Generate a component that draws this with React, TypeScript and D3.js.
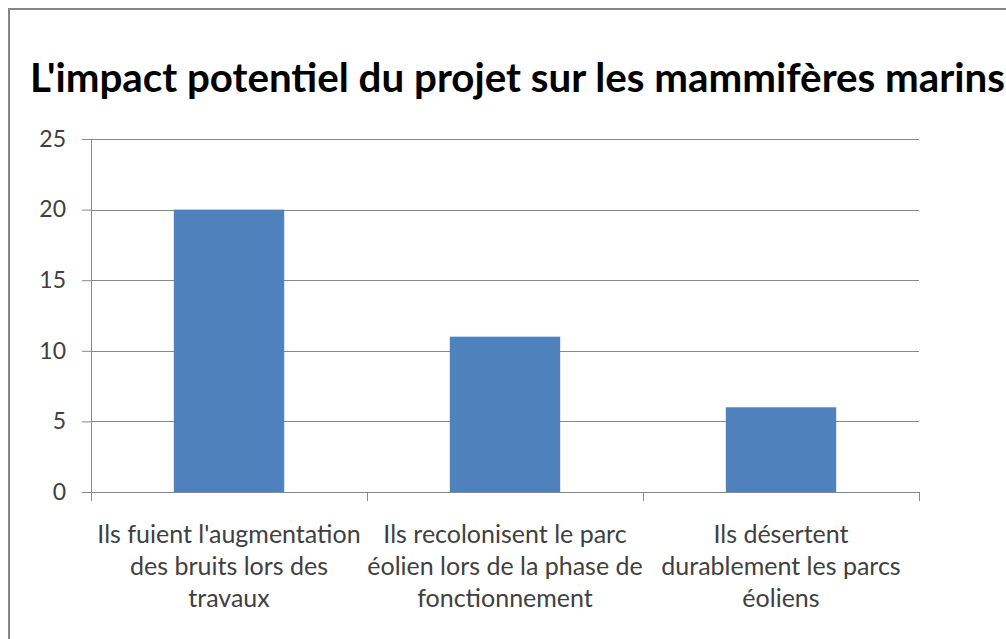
import React, { useEffect, useRef } from "react";
import * as d3 from "d3";

const title = "L'impact potentiel du projet sur les mammifères marins";
const categories = [
  ["Ils fuient l'augmentation", "des bruits lors des", "travaux"],
  ["Ils recolonisent le parc", "éolien lors de la phase de", "fonctionnement"],
  ["Ils désertent", "durablement les parcs", "éoliens"],
];
const values = [20, 11, 6];
const yTicks = [0, 5, 10, 15, 20, 25];

const W = 1006;
const H = 639;
const plot = { left: 91, right: 919, top: 139, bottom: 492 };
const FONT = "Lato, 'Open Sans', sans-serif";

const App = () => {
  const svgRef = useRef<SVGSVGElement>(null);

  useEffect(() => {
    const svg = d3.select(svgRef.current);
    svg.selectAll("*").remove();

    // chart frame, runs off the right and bottom edges
    svg
      .append("rect")
      .attr("x", 9)
      .attr("y", 9)
      .attr("width", W + 20)
      .attr("height", H + 20)
      .attr("fill", "#fff")
      .attr("stroke", "#878787")
      .attr("stroke-width", 2);

    svg
      .append("text")
      .attr("x", 30)
      .attr("y", 92)
      .attr("font-family", FONT)
      .attr("font-weight", "bold")
      .attr("font-size", 40.3)
      .attr("fill", "#000")
      .text(title);

    const x = d3
      .scaleBand<number>()
      .domain(categories.map((_, i) => i))
      .range([plot.left, plot.right])
      .paddingInner(0.6)
      .paddingOuter(0.3);

    const y = d3
      .scaleLinear()
      .domain([0, 25])
      .range([plot.bottom, plot.top]);

    const yAxis = d3
      .axisLeft(y)
      .tickValues(yTicks)
      .tickSize(9)
      .tickPadding(16);

    svg
      .append("g")
      .attr("transform", `translate(${plot.left},0)`)
      .call(yAxis)
      .call((g) => g.select(".domain").attr("stroke", "#888").attr("d", `M0.5,${plot.top}V${plot.bottom}`))
      .call((g) => g.selectAll(".tick line").attr("stroke", "#888"))
      .call((g) =>
        g
          .selectAll(".tick text")
          .attr("font-family", FONT)
          .attr("font-size", 23)
          .attr("fill", "#404040"),
      );

    // gridlines
    svg
      .append("g")
      .selectAll("line")
      .data(yTicks.filter((t) => t > 0))
      .enter()
      .append("line")
      .attr("x1", plot.left)
      .attr("x2", plot.right)
      .attr("y1", (d) => Math.round(y(d)) + 0.5)
      .attr("y2", (d) => Math.round(y(d)) + 0.5)
      .attr("stroke", "#888");

    svg
      .append("g")
      .selectAll("rect")
      .data(values)
      .enter()
      .append("rect")
      .attr("x", (_, i) => x(i)!)
      .attr("y", (d) => y(d))
      .attr("width", x.bandwidth())
      .attr("height", (d) => y(0) - y(d))
      .attr("fill", "#4f81bd");

    // x axis line and category separators
    const step = x.step();
    const sep = d3.range(categories.length + 1).map((i) => plot.left + i * step);
    const xg = svg.append("g");
    xg.append("line")
      .attr("x1", plot.left - 9)
      .attr("x2", plot.right)
      .attr("y1", plot.bottom + 0.5)
      .attr("y2", plot.bottom + 0.5)
      .attr("stroke", "#888");
    xg.selectAll(".sep")
      .data(sep)
      .enter()
      .append("line")
      .attr("x1", (d) => Math.round(d) + 0.5)
      .attr("x2", (d) => Math.round(d) + 0.5)
      .attr("y1", plot.bottom)
      .attr("y2", plot.bottom + 9)
      .attr("stroke", "#888");

    const labels = xg
      .selectAll(".cat")
      .data(categories)
      .enter()
      .append("text")
      .attr("text-anchor", "middle")
      .attr("font-family", FONT)
      .attr("font-size", 25)
      .attr("fill", "#404040");

    labels
      .selectAll("tspan")
      .data((d, i) => d.map((line) => ({ line, i })))
      .enter()
      .append("tspan")
      .attr("x", (d) => x(d.i)! + x.bandwidth() / 2)
      .attr("y", (_, j) => 543 + j * 32)
      .text((d) => d.line);
  }, []);

  return (
    <svg
      ref={svgRef}
      width={W}
      height={H}
      style={{ position: "fixed", left: 0, top: 0, background: "#fff" }}
    />
  );
};

export default App;
